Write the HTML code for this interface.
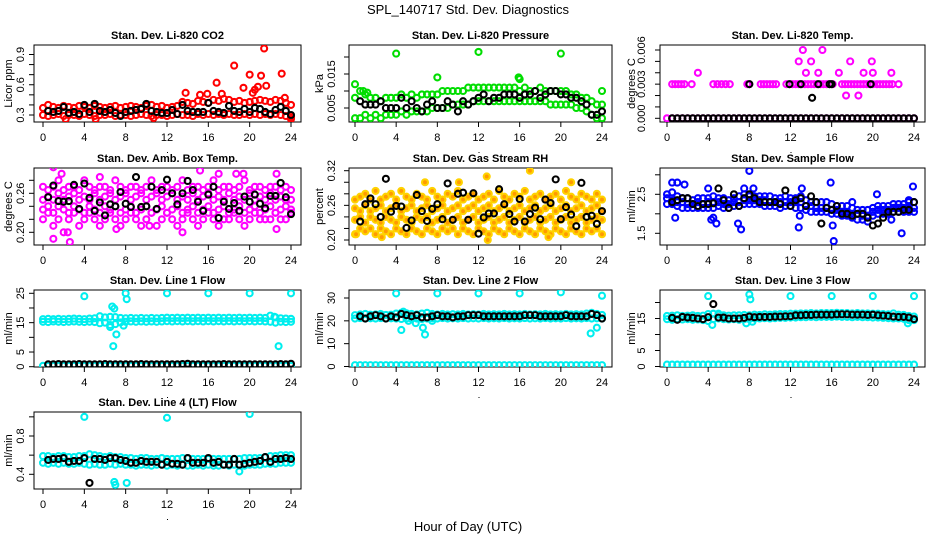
<!DOCTYPE html>
<html><head><meta charset="utf-8"><style>
html,body{margin:0;padding:0;background:#fff;}
svg{display:block;font-family:"Liberation Sans",sans-serif;}
</style></head><body>
<svg id="chart" width="936" height="540" viewBox="0 0 936 540" xmlns="http://www.w3.org/2000/svg">
<text x="468" y="14" text-anchor="middle" font-size="13">SPL_140717  Std. Dev. Diagnostics</text>
<text x="468" y="531" text-anchor="middle" font-size="13">Hour of Day (UTC)</text>
</svg>
<script>
const hours=[0,0.5,1,1.5,2,2.5,3,3.5,4,4.5,5,5.5,6,6.5,7,7.5,8,8.5,9,9.5,10,10.5,11,11.5,12,12.5,13,13.5,14,14.5,15,15.5,16,16.5,17,17.5,18,18.5,19,19.5,20,20.5,21,21.5,22,22.5,23,23.5,24];
const blackHours=[0.5,1,1.5,2,2.5,3,3.5,4,4.5,5,5.5,6,6.5,7,7.5,8,8.5,9,9.5,10,10.5,11,11.5,12,12.5,13,13.5,14,14.5,15,15.5,16,16.5,17,17.5,18,18.5,19,19.5,20,20.5,21,21.5,22,22.5,23,23.5,24];
const xTicks=[0,4,8,12,16,20,24];

// CO2
const co2Lo=[0.30,0.29,0.30,0.31,0.29,0.30,0.30,0.29,0.31,0.30,0.29,0.30,0.30,0.31,0.29,0.30,0.30,0.29,0.30,0.31,0.30,0.29,0.30,0.30,0.29,0.30,0.31,0.30,0.30,0.29,0.31,0.30,0.31,0.30,0.31,0.30,0.31,0.30,0.30,0.31,0.30,0.31,0.30,0.31,0.30,0.31,0.30,0.29,0.28];
const co2Hi=[0.37,0.40,0.38,0.37,0.39,0.38,0.37,0.39,0.38,0.37,0.39,0.38,0.37,0.38,0.39,0.37,0.38,0.39,0.38,0.37,0.39,0.40,0.38,0.39,0.37,0.38,0.39,0.43,0.42,0.41,0.44,0.43,0.42,0.45,0.44,0.46,0.45,0.43,0.44,0.42,0.43,0.44,0.45,0.44,0.43,0.45,0.44,0.42,0.40];
const co2OutT=[13.8,15.2,15.9,16.8,17.3,18.5,19.4,20,20.3,20.5,20.8,21.1,21.4,21.6,23.1,23.4,5.1,10.7,2.2,24];
const co2OutV=[0.52,0.50,0.51,0.62,0.51,0.79,0.57,0.70,0.52,0.55,0.58,0.69,0.96,0.59,0.71,0.47,0.26,0.27,0.26,0.26];
const co2Black=[0.34,0.33,0.34,0.38,0.32,0.33,0.31,0.40,0.33,0.41,0.34,0.33,0.35,0.32,0.29,0.33,0.34,0.35,0.36,0.41,0.34,0.33,0.32,0.32,0.35,0.31,0.40,0.34,0.33,0.33,0.33,0.42,0.34,0.33,0.32,0.39,0.34,0.33,0.36,0.33,0.37,0.36,0.33,0.31,0.35,0.38,0.34,0.30];
// Pressure
const presLo=[0.002,0.002,0.003,0.002,0.003,0.002,0.003,0.003,0.003,0.004,0.003,0.004,0.004,0.004,0.004,0.005,0.005,0.005,0.005,0.006,0.006,0.006,0.006,0.007,0.007,0.007,0.007,0.007,0.007,0.007,0.007,0.007,0.007,0.007,0.007,0.007,0.007,0.007,0.006,0.006,0.006,0.006,0.006,0.005,0.005,0.004,0.003,0.002,0.002];
const presHi=[0.008,0.010,0.009,0.008,0.008,0.007,0.008,0.008,0.008,0.009,0.008,0.009,0.008,0.009,0.009,0.009,0.009,0.010,0.010,0.010,0.010,0.010,0.011,0.011,0.011,0.011,0.011,0.011,0.011,0.011,0.011,0.011,0.010,0.011,0.010,0.010,0.011,0.010,0.010,0.010,0.010,0.010,0.009,0.009,0.008,0.008,0.007,0.006,0.006];
const presOutT=[0,4,8,12,15.9,16,20,24,0.8,1.2];
const presOutV=[0.012,0.021,0.014,0.0215,0.014,0.0135,0.021,0.010,0.010,0.0095];
const presBlack=[0.007,0.006,0.006,0.006,0.007,0.005,0.005,0.005,0.008,0.005,0.007,0.005,0.004,0.006,0.007,0.005,0.005,0.007,0.006,0.004,0.007,0.006,0.007,0.008,0.009,0.007,0.008,0.008,0.009,0.009,0.009,0.008,0.009,0.009,0.010,0.008,0.009,0.010,0.010,0.009,0.009,0.008,0.008,0.007,0.006,0.003,0.003,0.004];
// Li-820 temp
const tempLo=[0,0,0,0,0,0,0,0,0,0,0,0,0,0,0,0,0,0,0,0,0,0,0,0,0,0,0,0,0,0,0,0,0,0,0,0,0,0,0,0,0,0,0,0,0,0,0,0,0];
const tempMidT=[0.5,0.8,1.1,1.4,1.7,2.4,4.5,4.9,5.3,5.7,6.1,7.8,8.0,9.1,9.4,9.7,10.0,10.3,10.6,11.6,11.9,12.2,12.5,12.8,13.1,13.4,13.7,14.0,14.3,14.6,14.9,15.2,15.5,15.8,16.1,17.0,17.3,17.6,17.9,18.2,18.5,18.8,19.1,19.4,19.7,20.0,20.4,20.7,21.0,21.3,21.6,21.9,22.5];
const tempMidV=[0.003,0.003,0.003,0.003,0.003,0.003,0.003,0.003,0.003,0.003,0.003,0.003,0.003,0.003,0.003,0.003,0.003,0.003,0.003,0.003,0.003,0.003,0.003,0.003,0.003,0.003,0.003,0.003,0.003,0.003,0.003,0.003,0.003,0.003,0.003,0.003,0.003,0.003,0.003,0.003,0.003,0.003,0.003,0.003,0.003,0.003,0.003,0.003,0.003,0.003,0.003,0.003,0.003];
const tempOutT=[3,12.8,13.2,13.5,14,14.7,15.1,16.7,17.4,17.8,18.6,19.1,19.9,20,21.8];
const tempOutV=[0.004,0.005,0.006,0.004,0.005,0.004,0.006,0.004,0.002,0.005,0.002,0.004,0.005,0.004,0.004];
const tempBlack=[0,0,0,0,0,0,0,0,0,0,0,0,0,0,0,0,0,0,0,0,0,0,0,0,0,0,0,0,0,0,0,0,0,0,0,0,0,0,0,0,0,0,0,0,0,0,0,0];
const tempBlackOutT=[8,11.9,13,14.1,14.7,15.8,16,19.8];
const tempBlackOutV=[0.003,0.003,0.003,0.0018,0.003,0.003,0.003,0.003];
// Amb box temp
const ambA=[0.22,0.23,0.21,0.22,0.20,0.22,0.23,0.21,0.22,0.23,0.22,0.21,0.22,0.23,0.22,0.21,0.22,0.23,0.22,0.21,0.22,0.23,0.21,0.22,0.23,0.22,0.21,0.22,0.23,0.22,0.21,0.22,0.23,0.22,0.21,0.22,0.22,0.23,0.22,0.21,0.22,0.23,0.22,0.22,0.22,0.23,0.22,0.22,0.23];
const ambB=[0.235,0.24,0.23,0.24,0.235,0.23,0.24,0.235,0.23,0.24,0.235,0.23,0.24,0.235,0.24,0.23,0.235,0.24,0.23,0.235,0.24,0.23,0.235,0.24,0.23,0.235,0.24,0.23,0.235,0.24,0.23,0.235,0.24,0.23,0.235,0.24,0.23,0.235,0.24,0.23,0.235,0.24,0.23,0.235,0.24,0.23,0.235,0.24,0.235];
const ambC=[0.25,0.255,0.25,0.26,0.25,0.255,0.26,0.25,0.255,0.25,0.26,0.25,0.255,0.26,0.25,0.255,0.26,0.25,0.255,0.26,0.25,0.255,0.26,0.25,0.255,0.26,0.25,0.255,0.25,0.26,0.25,0.255,0.26,0.25,0.255,0.25,0.26,0.25,0.255,0.25,0.26,0.25,0.255,0.25,0.26,0.25,0.255,0.25,0.25];
const ambD=[0.27,0.265,0.27,0.28,0.265,0.27,0.27,0.265,0.28,0.27,0.265,0.27,0.27,0.265,0.28,0.27,0.265,0.27,0.27,0.265,0.27,0.28,0.265,0.27,0.27,0.265,0.27,0.28,0.265,0.27,0.27,0.265,0.27,0.28,0.265,0.27,0.27,0.265,0.27,0.28,0.265,0.27,0.27,0.265,0.27,0.27,0.265,0.27,0.265];
const ambOutT=[1,1,2.6,1.8,2.4,5.5,7.1,10.3,13.5,15.2,17,18.7,19.4,22.6,22.6];
const ambOutV=[0.30,0.19,0.185,0.29,0.20,0.285,0.205,0.21,0.20,0.295,0.29,0.29,0.29,0.29,0.205];
const ambBlack=[0.254,0.272,0.248,0.247,0.248,0.273,0.236,0.275,0.253,0.233,0.246,0.226,0.243,0.240,0.262,0.244,0.239,0.285,0.239,0.240,0.270,0.236,0.265,0.281,0.260,0.243,0.260,0.279,0.265,0.247,0.233,0.258,0.270,0.222,0.247,0.236,0.245,0.233,0.255,0.247,0.258,0.244,0.237,0.256,0.256,0.276,0.254,0.228];
// Gas stream RH
const rhA=[0.21,0.22,0.215,0.22,0.21,0.22,0.215,0.21,0.22,0.215,0.21,0.22,0.215,0.21,0.22,0.215,0.21,0.22,0.215,0.22,0.21,0.22,0.215,0.21,0.22,0.215,0.21,0.22,0.215,0.21,0.22,0.215,0.21,0.22,0.215,0.21,0.22,0.215,0.21,0.22,0.215,0.21,0.22,0.215,0.21,0.22,0.215,0.22,0.21];
const rhB=[0.235,0.24,0.23,0.24,0.235,0.23,0.24,0.235,0.23,0.24,0.235,0.23,0.24,0.235,0.24,0.23,0.235,0.24,0.23,0.235,0.24,0.23,0.235,0.24,0.23,0.235,0.24,0.23,0.235,0.24,0.23,0.235,0.24,0.23,0.235,0.24,0.23,0.235,0.24,0.23,0.235,0.24,0.23,0.235,0.24,0.23,0.235,0.24,0.235];
const rhC=[0.255,0.25,0.26,0.25,0.255,0.26,0.25,0.255,0.26,0.25,0.255,0.26,0.25,0.255,0.26,0.25,0.255,0.26,0.25,0.255,0.26,0.25,0.255,0.26,0.25,0.255,0.26,0.25,0.255,0.26,0.25,0.255,0.26,0.25,0.255,0.26,0.25,0.255,0.26,0.25,0.255,0.26,0.25,0.255,0.26,0.25,0.255,0.26,0.25];
const rhD=[0.27,0.275,0.28,0.27,0.285,0.27,0.275,0.28,0.27,0.285,0.275,0.27,0.28,0.275,0.27,0.285,0.275,0.27,0.28,0.275,0.285,0.27,0.275,0.28,0.27,0.275,0.28,0.27,0.285,0.275,0.27,0.28,0.275,0.285,0.27,0.275,0.28,0.27,0.275,0.28,0.27,0.285,0.275,0.27,0.28,0.275,0.27,0.28,0.27];
const rhOutT=[0.1,2.6,6.8,10.1,12.8,12.9,17,18.8,21];
const rhOutV=[0.21,0.205,0.30,0.30,0.31,0.20,0.32,0.205,0.30];
const rhBlack=[0.232,0.262,0.272,0.262,0.24,0.306,0.249,0.259,0.258,0.221,0.234,0.278,0.25,0.233,0.254,0.262,0.236,0.298,0.235,0.28,0.282,0.235,0.281,0.211,0.239,0.246,0.246,0.288,0.262,0.245,0.232,0.271,0.232,0.245,0.256,0.236,0.27,0.264,0.305,0.236,0.257,0.244,0.224,0.299,0.24,0.242,0.228,0.25];
// Sample flow
const sfLo=[2.25,2.25,2.2,2.15,2.15,2.15,2.15,2.15,2.15,2.15,2.2,2.15,2.15,2.2,2.2,2.25,2.25,2.25,2.25,2.2,2.2,2.2,2.15,2.2,2.2,2.15,2.15,2.1,2.05,2.05,2.05,2.05,2.0,2.0,1.95,1.95,1.9,1.85,1.85,1.8,1.95,2.0,2.0,2.0,2.05,2.05,2.05,2.05,2.05];
const sfMid=[2.4,2.35,2.3,2.3,2.25,2.25,2.3,2.25,2.3,2.3,2.3,2.25,2.25,2.3,2.3,2.35,2.35,2.35,2.35,2.35,2.3,2.3,2.3,2.3,2.3,2.3,2.3,2.2,2.2,2.15,2.15,2.15,2.1,2.1,2.05,2.05,2.0,2.0,1.95,1.95,2.05,2.1,2.1,2.1,2.15,2.15,2.15,2.15,2.15];
const sfHi=[2.5,2.55,2.45,2.4,2.4,2.35,2.4,2.4,2.4,2.45,2.4,2.4,2.35,2.4,2.45,2.5,2.45,2.45,2.45,2.45,2.45,2.4,2.4,2.45,2.4,2.4,2.45,2.35,2.3,2.3,2.3,2.3,2.25,2.2,2.2,2.2,2.15,2.1,2.1,2.1,2.15,2.2,2.2,2.2,2.25,2.25,2.25,2.3,2.3];
const sfOutT=[0.5,1,1.7,0.8,4,4.3,4.5,4.8,6.9,7.2,7.5,8,8.4,12.8,12.9,13.1,15.9,16.1,16.2,18,20.4,21.8,22.8,23.5,23.9];
const sfOutV=[2.8,2.8,2.75,1.9,2.65,1.85,1.9,1.75,1.75,1.6,2.65,3.1,2.65,1.65,1.95,2.65,2.8,1.7,1.3,2.3,2.5,1.85,1.5,2.35,2.7];
const sfBlack=[2.3,2.35,2.4,2.4,2.25,2.2,2.25,2.25,2.27,2.65,2.35,2.15,2.5,2.2,2.4,2.5,2.4,2.3,2.3,2.3,2.3,2.25,2.6,2.2,2.35,2.4,2.2,2.45,2.3,1.75,2.15,2.1,2.2,2.0,2.0,1.95,2.0,2.0,1.9,1.7,1.75,1.9,2.05,2.05,2.05,2.1,2.1,2.3];
// Line 1
const l1Lo=[15.3,15.2,15.4,15.3,15.2,15.3,15.4,15.3,15.2,15.3,15.2,14.8,15.0,14.2,14.5,15.1,15.3,15.4,15.3,15.4,15.3,15.4,15.3,15.4,15.5,15.4,15.5,15.4,15.5,15.4,15.5,15.4,15.5,15.4,15.5,15.4,15.5,15.4,15.5,15.4,15.5,15.4,15.5,15.4,15.3,15.0,15.3,15.2,15.3];
const l1Hi=[16.2,16.3,16.2,16.3,16.2,16.3,16.4,16.3,16.2,16.4,16.5,17.2,16.8,17.0,16.9,16.6,16.5,16.6,16.5,16.6,16.5,16.6,16.5,16.6,16.7,16.6,16.7,16.6,16.7,16.6,16.7,16.6,16.7,16.6,16.7,16.6,16.7,16.6,16.7,16.6,16.7,16.6,16.7,16.6,17.4,16.8,16.5,16.4,16.3];
const l1Base=[0.3,0.3,0.3,0.3,0.3,0.3,0.3,0.3,0.3,0.3,0.3,0.3,0.3,0.3,0.3,0.3,0.3,0.3,0.3,0.3,0.3,0.3,0.3,0.3,0.3,0.3,0.3,0.3,0.3,0.3,0.3,0.3,0.3,0.3,0.3,0.3,0.3,0.3,0.3,0.3,0.3,0.3,0.3,0.3,0.3,0.3,0.3,0.3,0.3];
const l1OutT=[4,6.7,6.9,7.1,6.8,8,8.1,12,16,20,24,22.8,6.5,7.8,22.4];
const l1OutV=[24,20.5,19.8,11,7,25,23,25,25,25,25,7,13.5,14,17];
const l1Black=[0.8,0.8,0.9,0.8,0.8,0.8,0.9,0.8,0.8,0.8,0.8,0.9,0.8,0.8,0.8,0.8,0.8,0.8,0.9,0.8,0.8,0.8,0.8,0.8,0.8,0.8,0.9,1.0,0.8,0.8,0.8,0.8,0.8,0.8,0.9,0.8,0.8,0.8,0.8,0.8,0.8,0.8,0.8,0.8,0.8,0.9,0.8,1.0];
// Line 2
const l2Lo=[21,21.2,21,21.1,21,21.2,21,21.1,21,20.8,21,20.9,21,20.8,21,21.1,21,21.2,21,21.1,21,21.2,21,21.1,21,21.2,21,21.1,21,21.2,21,21.1,21,21.2,21,21.1,21,21.2,21,21.1,21,21.2,21,21.1,21,21.2,21,21.1,21];
const l2Hi=[22.5,22.8,23,22.7,22.8,23,22.6,22.7,23.2,23.5,23.3,23,22.8,23.2,23.5,23,22.8,23,22.8,22.9,22.8,23,22.8,22.9,22.8,23,22.8,22.9,22.8,23,22.8,22.9,22.8,23,22.8,22.9,22.8,23,22.8,22.9,22.8,23,22.8,22.9,22.8,23.2,23.5,23,22.6];
const l2Base=[0.6,0.6,0.6,0.6,0.6,0.6,0.6,0.6,0.6,0.6,0.6,0.6,0.6,0.6,0.6,0.6,0.6,0.6,0.6,0.6,0.6,0.6,0.6,0.6,0.6,0.6,0.6,0.6,0.6,0.6,0.6,0.6,0.6,0.6,0.6,0.6,0.6,0.6,0.6,0.6,0.6,0.6,0.6,0.6,0.6,0.6,0.6,0.6,0.6];
const l2OutT=[4,8,12,16,20,24,4.5,4.7,5.2,5.9,6.6,6.8,22.9,23.5,7.5];
const l2OutV=[32,32,32,32,32.5,31,16,24,20,19,17,14,14.5,17,20];
const l2Black=[22,21,22,22.5,22,21,22,21.5,23,22.5,22,22.5,21.5,21.5,22,22.5,22,22,21.5,22,22,22.5,22.5,22.5,22,22,22,22,22,22,22,22,22.5,22.5,22.5,22,22,22,22,22,22.5,22,22,22,22,23,22.5,21];
// Line 3
const l3Lo=[14.8,14.6,14.8,14.7,14.8,14.6,14.7,14.5,14.2,14.8,15,14.8,14.7,14.8,14.6,14.8,14.8,15,15,15.1,15,15.1,15.2,15.2,15.3,15.3,15.4,15.4,15.5,15.4,15.5,15.5,15.5,15.6,15.5,15.5,15.4,15.5,15.4,15.4,15.3,15.3,15.2,15.1,15,15,14.9,14.5,14.5];
const l3Hi=[15.8,15.9,16,15.8,15.9,16,15.8,15.9,16.4,16.5,16.2,16,15.9,16,16,16.1,16,16.2,16.1,16.3,16.2,16.3,16.4,16.4,16.5,16.5,16.6,16.6,16.7,16.6,16.7,16.7,16.7,16.8,16.7,16.7,16.6,16.7,16.6,16.6,16.5,16.5,16.4,16.3,16.6,16.2,16.1,15.8,15.6];
const l3Base=[0.6,0.6,0.6,0.6,0.6,0.6,0.6,0.6,0.6,0.6,0.6,0.6,0.6,0.6,0.6,0.6,0.6,0.6,0.6,0.6,0.6,0.6,0.6,0.6,0.6,0.6,0.6,0.6,0.6,0.6,0.6,0.6,0.6,0.6,0.6,0.6,0.6,0.6,0.6,0.6,0.6,0.6,0.6,0.6,0.6,0.6,0.6,0.6,0.6];
const l3OutT=[4,8,8.1,12,16,20,24,4.4,23.4,7.7,8.3,5];
const l3OutV=[22,22.5,21,22,22,22,22,13,13.5,13.5,14,16.5];
const l3Black=[15.2,14.6,15.5,15.3,15.2,15,14.8,15.4,19.5,15.3,15.3,15,15,15,15.2,15.6,15.4,15.5,15.5,15.5,15.6,15.6,15.7,15.7,16,16,16.1,16.1,16.2,16.2,16.2,16.2,16.3,16.3,16.3,16.2,16.2,16.2,16.1,16.2,16,15.9,15.8,15.6,15.5,15.5,15.3,14.8];
// Line 4
const l4Lo=[0.52,0.51,0.52,0.51,0.52,0.51,0.51,0.52,0.51,0.50,0.51,0.50,0.50,0.51,0.50,0.51,0.50,0.50,0.49,0.50,0.50,0.49,0.50,0.50,0.49,0.50,0.49,0.50,0.49,0.49,0.50,0.49,0.50,0.49,0.49,0.50,0.49,0.50,0.50,0.49,0.50,0.50,0.50,0.51,0.51,0.51,0.52,0.52,0.52];
const l4Hi=[0.59,0.59,0.58,0.59,0.59,0.58,0.58,0.59,0.59,0.61,0.60,0.59,0.58,0.59,0.58,0.58,0.57,0.57,0.56,0.57,0.57,0.56,0.56,0.57,0.56,0.56,0.56,0.57,0.57,0.56,0.56,0.56,0.56,0.56,0.56,0.56,0.56,0.56,0.56,0.57,0.57,0.57,0.57,0.58,0.59,0.59,0.60,0.60,0.60];
const l4OutT=[4,12,20,6.9,7,8.1,19];
const l4OutV=[1.0,0.99,1.03,0.32,0.29,0.31,0.43];
const l4Black=[0.55,0.56,0.56,0.57,0.53,0.54,0.54,0.57,0.31,0.56,0.56,0.55,0.57,0.57,0.55,0.54,0.52,0.52,0.54,0.53,0.53,0.53,0.50,0.53,0.51,0.51,0.50,0.57,0.52,0.52,0.52,0.57,0.52,0.53,0.50,0.50,0.56,0.50,0.51,0.52,0.53,0.54,0.58,0.53,0.56,0.56,0.57,0.56];

const NS='http://www.w3.org/2000/svg';
const svg=document.getElementById('chart');
const cols=[{l:34,r:301,x0:43,x24:291,tl:21,at:9},{l:349,r:612,x0:355,x24:602,tl:332,at:320},{l:660,r:925,x0:667,x24:914,tl:642,at:632}];
const rows=[{t:45,b:122},{t:168,b:245},{t:290,b:367},{t:412,b:489}];

function mk(tag,attrs,parent){const e=document.createElementNS(NS,tag);for(const k in attrs)e.setAttribute(k,attrs[k]);parent.appendChild(e);return e;}

function panel(o){
  const c=cols[o.col], r=rows[o.row];
  const g=mk('g',{},svg);
  
  
  const xs=t=>c.x0+(c.x24-c.x0)*t/24;
  const ys=v=>o.p1+(o.p2-o.p1)*(v-o.v1)/(o.v2-o.v1);
  const cid='clip-'+o.name;
  const cp=mk('clipPath',{id:cid},g);mk('rect',{x:c.l,y:r.t,width:c.r-c.l,height:r.b-r.t},cp);
  const title=mk('text',{x:(c.l+c.r)/2,y:r.t-6,'text-anchor':'middle','font-size':11,'font-weight':'bold'},g);
  title.textContent=o.title;
  
  
  const yt=mk('text',{x:c.at,y:(r.t+r.b)/2,'text-anchor':'middle','font-size':11,transform:`rotate(-90 ${c.at} ${(r.t+r.b)/2})`,'dominant-baseline':'middle'},g);
  yt.textContent=o.ylab;
  
  
  const box=mk('rect',{x:c.l,y:r.t,width:c.r-c.l,height:r.b-r.t,fill:'none',stroke:'#000','stroke-width':1},g);
  
  
  mk('line',{x1:xs(0),x2:xs(24),y1:r.b,y2:r.b,stroke:'#000'},g);
  xTicks.forEach(t=>{
    mk('line',{x1:xs(t),x2:xs(t),y1:r.b,y2:r.b+5,stroke:'#000'},g);
    const tx=mk('text',{x:xs(t),y:r.b+19,'text-anchor':'middle','font-size':11},g);
    tx.textContent=String(t);
    
    
  });
  mk('rect',{x:(c.x0+c.x24)/2,y:r.b+30,width:1,height:1,fill:'#000'},g);
  o.ticks.forEach(v=>{mk('line',{x1:c.l-5,x2:c.l,y1:ys(v),y2:ys(v),stroke:'#000'},g);});
  o.labels.forEach((s,i)=>{
    const v=o.labelVals[i];const x=c.tl,y=ys(v);
    const tx=mk('text',{x:x,y:y,'text-anchor':'middle','font-size':11,'dominant-baseline':'middle',transform:`rotate(-90 ${x} ${y})`},g);
    tx.textContent=s;
    
    
  });
  const pg=mk('g',{'clip-path':`url(#${cid})`},g);
  function pts(T,V,col,fill,nm){
    for(let i=0;i<V.length;i++){
      if(V[i]==null)continue;
      const ci=mk('circle',{cx:xs(T[i]),cy:ys(V[i]),r:3,fill:fill||'none',stroke:col,'stroke-width':2.1},pg);
      
      
    }
  }
  o.series.forEach(s=>pts(s[0],s[1],o.color,o.fill,o.name+'-point'));
  (o.black||[]).forEach(s=>pts(s[0],s[1],'#000',null,o.name+'-hourly-point'));
}

panel({name:'co2',col:0,row:0,title:'Stan. Dev. Li-820 CO2',ylab:'Licor ppm',v1:0.3,p1:115,v2:0.9,p2:54.5,ticks:[0.3,0.4,0.5,0.6,0.7,0.8,0.9],labels:['0.3','0.6','0.9'],labelVals:[0.3,0.6,0.9],color:'#ff0000',
  series:[[hours,co2Lo],[hours,co2Hi],[co2OutT,co2OutV]],black:[[blackHours,co2Black]]});
panel({name:'pressure',col:1,row:0,title:'Stan. Dev. Li-820 Pressure',ylab:'kPa',v1:0.005,p1:108,v2:0.015,p2:74,ticks:[0.005,0.010,0.015,0.020],labels:['0.005','0.015'],labelVals:[0.005,0.015],color:'#00dd00',
  series:[[hours,presLo],[hours,presHi],[presOutT,presOutV]],black:[[blackHours,presBlack]]});
panel({name:'li820-temp',col:2,row:0,title:'Stan. Dev. Li-820 Temp.',ylab:'degrees C',v1:0,p1:118.3,v2:0.006,p2:50,ticks:[0,0.001,0.002,0.003,0.004,0.005,0.006],labels:['0.000','0.003','0.006'],labelVals:[0,0.003,0.006],color:'#ff00ff',
  series:[[hours,tempLo],[tempMidT,tempMidV],[tempOutT,tempOutV]],black:[[blackHours,tempBlack],[tempBlackOutT,tempBlackOutV]]});
panel({name:'amb-box-temp',col:0,row:1,title:'Stan. Dev. Amb. Box Temp.',ylab:'degrees C',v1:0.20,p1:232.3,v2:0.26,p2:193.3,ticks:[0.20,0.22,0.24,0.26,0.28],labels:['0.20','0.26'],labelVals:[0.20,0.26],color:'#ff00ff',
  series:[[hours,ambA],[hours,ambB],[hours,ambC],[hours,ambD],[ambOutT,ambOutV]],black:[[blackHours,ambBlack]]});
panel({name:'gas-rh',col:1,row:1,title:'Stan. Dev. Gas Stream RH',ylab:'percent',v1:0.20,p1:240,v2:0.32,p2:170.7,ticks:[0.20,0.22,0.24,0.26,0.28,0.30,0.32],labels:['0.20','0.26','0.32'],labelVals:[0.20,0.26,0.32],color:'#ffd200',fill:'#ff9a00',
  series:[[hours,rhA],[hours,rhB],[hours,rhC],[hours,rhD],[rhOutT,rhOutV]],black:[[blackHours,rhBlack]]});
panel({name:'sample-flow',col:2,row:1,title:'Stan. Dev. Sample Flow',ylab:'ml/min',v1:1.5,p1:233.3,v2:2.5,p2:194.3,ticks:[1.5,2.0,2.5,3.0],labels:['1.5','2.5'],labelVals:[1.5,2.5],color:'#0000ff',
  series:[[hours,sfLo],[hours,sfMid],[hours,sfHi],[sfOutT,sfOutV]],black:[[blackHours,sfBlack]]});
panel({name:'line1-flow',col:0,row:2,title:'Stan. Dev. Line 1 Flow',ylab:'ml/min',v1:0,p1:366.7,v2:25,p2:293.3,ticks:[0,5,10,15,20,25],labels:['0','5','15','25'],labelVals:[0,5,15,25],color:'#00eeee',
  series:[[hours,l1Lo],[hours,l1Hi],[hours,l1Base],[l1OutT,l1OutV]],black:[[blackHours,l1Black]]});
panel({name:'line2-flow',col:1,row:2,title:'Stan. Dev. Line 2 Flow',ylab:'ml/min',v1:0,p1:366.5,v2:30,p2:298,ticks:[0,10,20,30],labels:['0','10','20','30'],labelVals:[0,10,20,30],color:'#00eeee',
  series:[[hours,l2Lo],[hours,l2Hi],[hours,l2Base],[l2OutT,l2OutV]],black:[[blackHours,l2Black]]});
panel({name:'line3-flow',col:2,row:2,title:'Stan. Dev. Line 3 Flow',ylab:'ml/min',v1:0,p1:366.5,v2:15,p2:318.5,ticks:[0,5,10,15,20],labels:['0','5','15'],labelVals:[0,5,15],color:'#00eeee',
  series:[[hours,l3Lo],[hours,l3Hi],[hours,l3Base],[l3OutT,l3OutV]],black:[[blackHours,l3Black]]});
panel({name:'line4-flow',col:0,row:3,title:'Stan. Dev. Line 4 (LT) Flow',ylab:'ml/min',v1:0.4,p1:474.3,v2:0.8,p2:436,ticks:[0.4,0.6,0.8,1.0],labels:['0.4','0.8'],labelVals:[0.4,0.8],color:'#00eeee',
  series:[[hours,l4Lo],[hours,l4Hi],[l4OutT,l4OutV]],black:[[blackHours,l4Black]]});
</script>
</body></html>
